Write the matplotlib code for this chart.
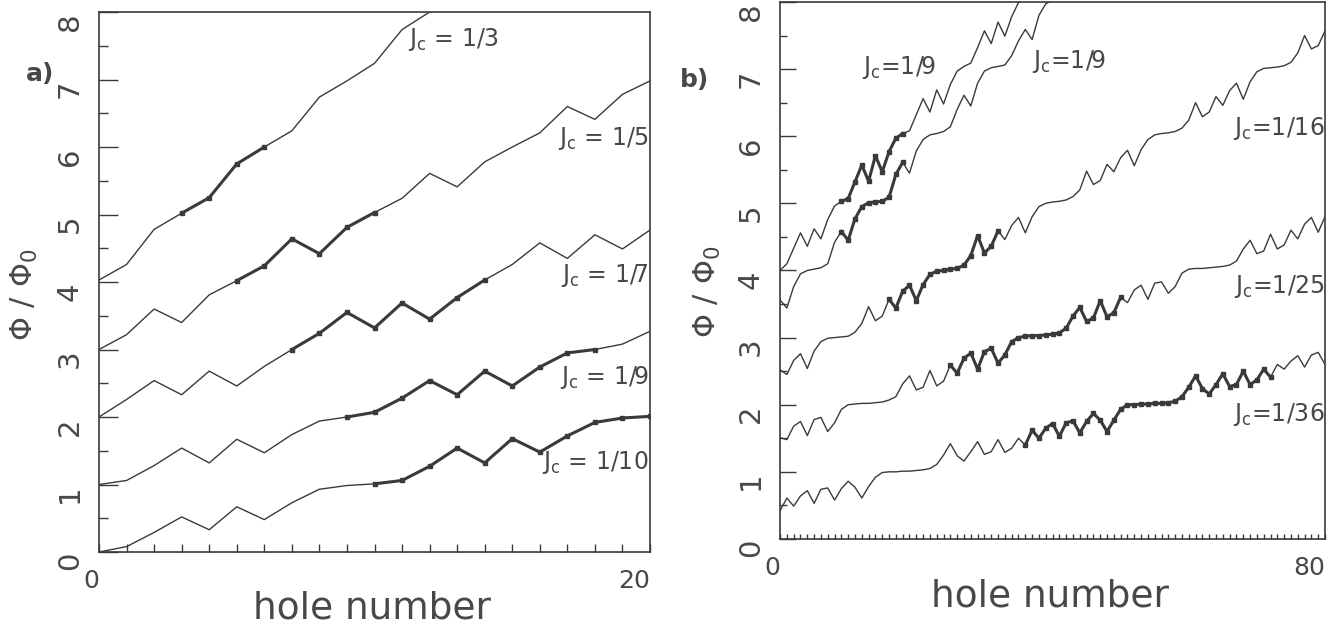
import numpy as np
import matplotlib
matplotlib.use("Agg")
import matplotlib.pyplot as plt

plt.rcParams['font.family'] = ['DejaVu Sans']
plt.rcParams['mathtext.fontset'] = 'dejavusans'

INK = '#3a3a3a'
TXT = '#484848'

# ---- panel a: flux vs hole number, 0..20
holes_a = list(range(21))
jc3 = [4.03, 4.26, 4.78, 5.02, 5.25, 5.75, 6.00, 6.24, 6.74, 6.98, 7.24, 7.74, 8.00, 8.25]
jc5 = [3.00, 3.22, 3.60, 3.40, 3.81, 4.02, 4.24, 4.64, 4.42, 4.81, 5.03,
       5.24, 5.61, 5.41, 5.78, 6.00, 6.21, 6.60, 6.41, 6.78, 6.98]
jc7 = [2.00, 2.26, 2.54, 2.33, 2.68, 2.46, 2.75, 3.00, 3.24, 3.55, 3.32,
       3.69, 3.45, 3.77, 4.03, 4.26, 4.58, 4.35, 4.70, 4.49, 4.77]
jc9 = [1.00, 1.06, 1.28, 1.54, 1.32, 1.67, 1.47, 1.74, 1.94, 2.00, 2.07,
       2.28, 2.54, 2.33, 2.68, 2.46, 2.74, 2.95, 3.00, 3.08, 3.27]
jc10 = [0.00, 0.08, 0.29, 0.52, 0.33, 0.67, 0.48, 0.73, 0.93, 0.985, 1.01,
        1.06, 1.27, 1.54, 1.32, 1.68, 1.48, 1.72, 1.92, 1.985, 2.01]
curves_a = [jc3, jc5, jc7, jc9, jc10]
marked_a = [(3, 6), (5, 10), (7, 14), (9, 18), (10, 20)]
labels_a = [r'$\mathrm{J_c}$ = 1/3', r'$\mathrm{J_c}$ = 1/5', r'$\mathrm{J_c}$ = 1/7',
            r'$\mathrm{J_c}$ = 1/9', r'$\mathrm{J_c}$ = 1/10']
label_y_a = [7.59, 6.12, 4.10, 2.59, 1.32]

# ---- panel b: 0..80
holes_b = list(range(81))
jc9_up = [4.00, 4.10, 4.33, 4.56, 4.36, 4.62, 4.47, 4.76, 4.96,
          5.03, 5.07, 5.32, 5.57, 5.33, 5.71, 5.47, 5.77, 5.97,
          6.04, 6.08, 6.32, 6.56, 6.36, 6.69, 6.48, 6.77, 6.97,
          7.04, 7.09, 7.32, 7.57, 7.38, 7.70, 7.49, 7.78, 7.99,
          8.04, 8.10, 8.33]
jc9_lo = [3.56, 3.44, 3.76, 3.95, 4.00, 4.02, 4.04, 4.10, 4.42,
          4.58, 4.45, 4.77, 4.95, 5.01, 5.02, 5.03, 5.09, 5.43,
          5.61, 5.45, 5.78, 5.95, 6.02, 6.04, 6.07, 6.14, 6.40,
          6.61, 6.45, 6.79, 6.97, 7.02, 7.04, 7.06, 7.20, 7.42,
          7.59, 7.44, 7.80, 7.97, 8.03, 8.05, 8.07, 8.15, 8.45]
jc16 = [2.52, 2.45, 2.66, 2.76, 2.54, 2.80, 2.94, 2.99, 3.00, 3.01, 3.02, 3.08, 3.21, 3.46, 3.25, 3.32,
        3.57, 3.44, 3.69, 3.78, 3.55, 3.79, 3.94, 3.99, 4.00, 4.02, 4.03, 4.08, 4.22, 4.52, 4.26, 4.36,
        4.59, 4.46, 4.67, 4.79, 4.56, 4.80, 4.95, 5.00, 5.02, 5.03, 5.05, 5.10, 5.20, 5.48, 5.28, 5.34,
        5.58, 5.47, 5.68, 5.79, 5.56, 5.80, 5.95, 6.02, 6.04, 6.05, 6.07, 6.12, 6.24, 6.50, 6.29, 6.36,
        6.59, 6.46, 6.68, 6.79, 6.55, 6.81, 6.96, 7.01, 7.02, 7.03, 7.05, 7.10, 7.24, 7.50, 7.30, 7.35,
        7.57]
jc25 = [1.51, 1.48, 1.68, 1.75, 1.54, 1.78, 1.81, 1.60, 1.73, 1.93, 2.00, 2.01, 2.02,
        2.02, 2.03, 2.04, 2.07, 2.12, 2.31, 2.43, 2.22, 2.26, 2.51, 2.28, 2.35,
        2.59, 2.47, 2.69, 2.77, 2.53, 2.79, 2.84, 2.62, 2.74, 2.94, 3.00, 3.02, 3.03,
        3.03, 3.04, 3.05, 3.07, 3.14, 3.32, 3.45, 3.24, 3.29, 3.55, 3.31, 3.37,
        3.60, 3.52, 3.71, 3.78, 3.57, 3.81, 3.83, 3.66, 3.76, 3.96, 4.02, 4.03, 4.03,
        4.04, 4.05, 4.06, 4.08, 4.14, 4.32, 4.45, 4.25, 4.29, 4.54, 4.32, 4.38,
        4.60, 4.47, 4.69, 4.79, 4.57, 4.80]
jc36 = [0.42, 0.61, 0.49, 0.64, 0.72, 0.53, 0.74, 0.76, 0.58, 0.75, 0.86, 0.77,
        0.61, 0.78, 0.92, 0.99, 1.00, 1.00, 1.01, 1.01, 1.02, 1.03, 1.05, 1.11,
        1.25, 1.42, 1.24, 1.16, 1.30, 1.45, 1.26, 1.30, 1.48, 1.29, 1.35, 1.50,
        1.40, 1.62, 1.50, 1.65, 1.72, 1.53, 1.73, 1.76, 1.58, 1.75, 1.87, 1.77,
        1.60, 1.77, 1.93, 2.00, 2.00, 2.01, 2.01, 2.02, 2.02, 2.03, 2.05, 2.12,
        2.26, 2.43, 2.24, 2.16, 2.30, 2.46, 2.27, 2.30, 2.50, 2.30, 2.37, 2.53,
        2.41, 2.60, 2.53, 2.65, 2.73, 2.56, 2.74, 2.78, 2.60]
curves_b = [jc9_up, jc9_lo, jc16, jc25, jc36]
marked_b = [(9, 18), (9, 18), (16, 32), (25, 50), (36, 72)]


def draw_curve(ax, x, y, m0, m1):
    ax.plot(x[:len(y)], y, color=INK, lw=1.0)
    ax.plot(x[m0:m1 + 1], y[m0:m1 + 1], color=INK, lw=2.2, marker='s', ms=3.3)


def style_axes(ax, xmax, xlen, ymaj, ymin):
    ax.set_xlim(0, xmax)
    ax.set_ylim(0, 8)
    ax.set_xticks(range(xmax + 1))
    ax.set_xticklabels(['0'] + [''] * (xmax - 1) + [str(xmax)])
    ax.set_yticks(range(9))
    ax.set_yticks(np.arange(0.5, 8, 1.0), minor=True)
    ax.tick_params(axis='x', direction='in', length=xlen, width=1.0, color=INK,
                   labelsize=18, labelcolor=TXT, pad=12)
    ax.tick_params(axis='y', which='major', direction='in', length=ymaj, width=1.0,
                   color=INK, labelsize=21, labelcolor=TXT, pad=11, labelrotation=90)
    ax.tick_params(axis='y', which='minor', direction='in', length=ymin, width=1.0, color=INK)
    for lab in ax.get_xticklabels():
        lab.set_ha('right')
    for lab in ax.get_yticklabels():
        lab.set_va('top')
    for s in ax.spines.values():
        s.set_color(INK)
        s.set_linewidth(1.2)


fig = plt.figure(figsize=(13.38, 6.27), dpi=100)
ax_a = fig.add_axes([0.0740, 0.1196, 0.4118, 0.8612])
ax_b = fig.add_axes([0.5830, 0.1404, 0.4073, 0.8565])

for y, (m0, m1) in zip(curves_a, marked_a):
    draw_curve(ax_a, holes_a, y, m0, m1)
style_axes(ax_a, 20, 5.8, 13.5, 6.5)

ax_a.text(11.2, label_y_a[0], labels_a[0], fontsize=17, color=TXT, ha='left', va='center')
for lab, ly in zip(labels_a[1:], label_y_a[1:]):
    ax_a.text(19.95, ly, lab, fontsize=17, color=TXT, ha='right', va='center')

for y, (m0, m1) in zip(curves_b, marked_b):
    draw_curve(ax_b, holes_b, y, m0, m1)
style_axes(ax_b, 80, 3.6, 11.5, 5.0)

ax_b.text(12.0, 7.03, r'$\mathrm{J_c}$=1/9', fontsize=17, color=TXT, ha='left', va='center')
ax_b.text(37.0, 7.11, r'$\mathrm{J_c}$=1/9', fontsize=17, color=TXT, ha='left', va='center')
ax_b.text(79.9, 6.12, r'$\mathrm{J_c}$=1/16', fontsize=17, color=TXT, ha='right', va='center')
ax_b.text(79.9, 3.76, r'$\mathrm{J_c}$=1/25', fontsize=17, color=TXT, ha='right', va='center')
ax_b.text(79.9, 1.86, r'$\mathrm{J_c}$=1/36', fontsize=17, color=TXT, ha='right', va='center')

# panel tags, axis titles
fig.text(0.0299, 0.882, 'a)', fontsize=18, fontweight='bold', color=TXT, ha='center', va='center')
fig.text(0.5194, 0.872, 'b)', fontsize=18, fontweight='bold', color=TXT, ha='center', va='center')
fig.text(0.0185, 0.530, r'$\Phi\ /\ \Phi_0$', fontsize=22, color=TXT, rotation=90,
         ha='center', va='center')
fig.text(0.5290, 0.534, r'$\Phi\ /\ \Phi_0$', fontsize=22, color=TXT, rotation=90,
         ha='center', va='center')
fig.text(0.278, 0.029, 'hole number', fontsize=27, color=TXT, ha='center', va='center')
fig.text(0.785, 0.049, 'hole number', fontsize=27, color=TXT, ha='center', va='center')

fig.savefig('out.png', dpi=100, facecolor='white')
